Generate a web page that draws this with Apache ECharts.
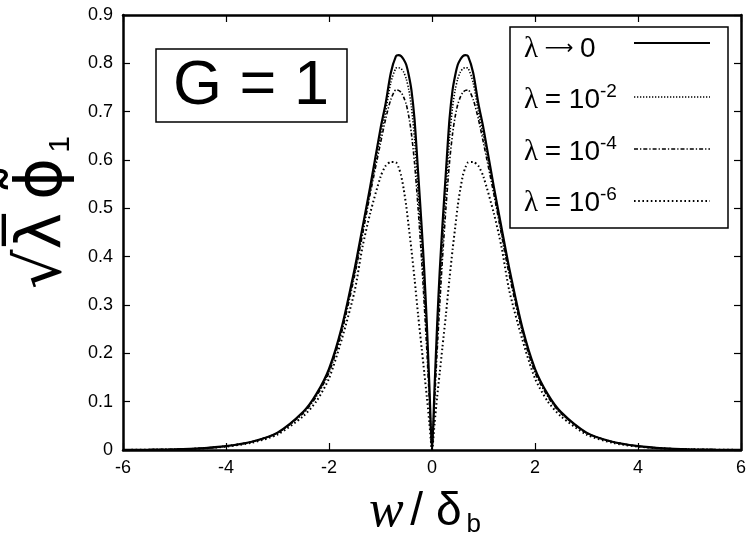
<!DOCTYPE html>
<html>
<head>
<meta charset="utf-8">
<script src="https://cdn.jsdelivr.net/npm/echarts@6/dist/echarts.min.js"></script>
<style>
  html, body { margin: 0; padding: 0; background: #fff; }
</style>
</head>
<body>
<div id="main" style="width: 746px; height: 544px"></div>
<script>
// w / delta_b grid
var xs = [-6, -5.5, -5, -4.5, -4, -3.5, -3, -2.5, -2.25, -2, -1.75, -1.5, -1.35, -1.2, -1, -0.9, -0.8, -0.7, -0.65, -0.6,
  -0.55, -0.5, -0.45, -0.4, -0.34, -0.27, -0.2, -0.15, -0.1, -0.05, 0, 0.05, 0.1, 0.15, 0.2, 0.27, 0.34, 0.4, 0.45, 0.5,
  0.55, 0.6, 0.65, 0.7, 0.8, 0.9, 1, 1.2, 1.35, 1.5, 1.75, 2, 2.25, 2.5, 3, 3.5, 4, 4.5, 5, 5.5, 6];

// lambda -> 0
var yLim0 = [0.0002, 0.0006, 0.0015, 0.0035, 0.008, 0.017, 0.036, 0.079, 0.115, 0.168, 0.255, 0.376, 0.46, 0.545, 0.665, 0.717, 0.78, 0.815, 0.817, 0.815,
  0.808, 0.797, 0.775, 0.745, 0.685, 0.575, 0.46, 0.37, 0.26, 0.13, 0, 0.13, 0.26, 0.37, 0.46, 0.575, 0.685, 0.745, 0.775, 0.797,
  0.808, 0.815, 0.817, 0.815, 0.78, 0.717, 0.665, 0.545, 0.46, 0.376, 0.255, 0.168, 0.115, 0.079, 0.036, 0.017, 0.008, 0.0035, 0.0015, 0.0006, 0.0002];
// lambda = 1e-2
var yLam2 = [0.0002, 0.0006, 0.0015, 0.0035, 0.008, 0.017, 0.035, 0.077, 0.112, 0.163, 0.25, 0.368, 0.45, 0.535, 0.65, 0.70, 0.76, 0.79, 0.791, 0.789,
  0.782, 0.768, 0.745, 0.71, 0.645, 0.535, 0.42, 0.33, 0.23, 0.115, 0, 0.115, 0.23, 0.33, 0.42, 0.535, 0.645, 0.71, 0.745, 0.768,
  0.782, 0.789, 0.791, 0.79, 0.76, 0.70, 0.65, 0.535, 0.45, 0.368, 0.25, 0.163, 0.112, 0.077, 0.035, 0.017, 0.008, 0.0035, 0.0015, 0.0006, 0.0002];
// lambda = 1e-4
var yLam4 = [0.0002, 0.0006, 0.0015, 0.0035, 0.008, 0.017, 0.035, 0.076, 0.11, 0.16, 0.245, 0.362, 0.445, 0.53, 0.635, 0.685, 0.725, 0.745, 0.744, 0.74,
  0.73, 0.715, 0.69, 0.655, 0.595, 0.50, 0.39, 0.30, 0.205, 0.10, 0, 0.10, 0.205, 0.30, 0.39, 0.50, 0.595, 0.655, 0.69, 0.715,
  0.73, 0.74, 0.744, 0.745, 0.725, 0.685, 0.635, 0.53, 0.445, 0.362, 0.245, 0.16, 0.11, 0.076, 0.035, 0.017, 0.008, 0.0035, 0.0015, 0.0006, 0.0002];
// lambda = 1e-6
var yLam6 = [0.0002, 0.0005, 0.0013, 0.003, 0.007, 0.015, 0.032, 0.07, 0.10, 0.148, 0.23, 0.33, 0.42, 0.49, 0.565, 0.588, 0.596, 0.595, 0.585, 0.568,
  0.54, 0.505, 0.46, 0.415, 0.355, 0.28, 0.21, 0.16, 0.11, 0.055, 0, 0.055, 0.11, 0.16, 0.21, 0.28, 0.355, 0.415, 0.46, 0.505,
  0.54, 0.568, 0.585, 0.595, 0.596, 0.588, 0.565, 0.49, 0.42, 0.33, 0.23, 0.148, 0.10, 0.07, 0.032, 0.015, 0.007, 0.003, 0.0013, 0.0005, 0.0002];

var legendTexts = ['{l|λ}  {a|⟶}  {t|0}', '{l|λ}  {t|= 10}{s|-2}', '{l|λ}  {t|= 10}{s|-4}', '{l|λ}  {t|= 10}{s|-6}'];

var lineStyles = [
  { color: '#000', width: 2.2, type: 'solid' },
  { color: '#000', width: 1.6, type: [1.3, 1.7] },
  { color: '#000', width: 1.6, type: [4, 2, 1.3, 2] },
  { color: '#000', width: 2, type: [1.6, 2.6] }
];

var font = 'Liberation Sans';
var chart = echarts.init(document.getElementById('main'));

var ySets = [yLim0, yLam2, yLam4, yLam6];
var series = ySets.map(function (ys, k) {
  return {
    type: 'line',
    name: 'c' + k,
    data: xs.map(function (x, i) { return [x, ys[i]]; }),
    showSymbol: false,
    symbol: 'none',
    smooth: 0.25,
    lineStyle: lineStyles[k],
    z: 10 - k
  };
});

var legendRich = {
  l: { fontFamily: 'Liberation Serif', fontSize: 29, color: '#000' },
  a: { fontFamily: 'DejaVu Sans', fontSize: 20, color: '#000' },
  t: { fontFamily: font, fontSize: 28, color: '#000' },
  s: { fontFamily: font, fontSize: 19, color: '#000', verticalAlign: 'top', padding: [0, 0, 16, 0] }
};

var graphics = [
  { type: 'rect', shape: { x: 156, y: 49, width: 191, height: 73 },
    style: { fill: '#fff', stroke: '#000', lineWidth: 1.5 }, z: 100 },
  { type: 'text', x: 251, y: 87, z: 101,
    style: { text: 'G = 1', font: '63px "Liberation Sans"', fill: '#000', align: 'center', verticalAlign: 'middle' } },
  { type: 'rect', shape: { x: 510, y: 27, width: 218, height: 201 },
    style: { fill: '#fff', stroke: '#000', lineWidth: 1.5 }, z: 100 }
];
var rowY = [43, 97, 149, 201];
var textY = [49, 100, 152, 203];
legendTexts.forEach(function (t, k) {
  graphics.push({ type: 'text', x: 524, y: textY[k], z: 101,
    style: { text: t, rich: legendRich, verticalAlign: 'middle', align: 'left' } });
  graphics.push({ type: 'line', shape: { x1: 634, y1: rowY[k], x2: 710, y2: rowY[k] }, z: 101,
    style: { stroke: '#000', lineWidth: lineStyles[k].width, lineDash: lineStyles[k].type === 'solid' ? null : lineStyles[k].type } });
});

var axisCommon = {
  axisLine: { show: true, onZero: false, lineStyle: { color: '#000', width: 2.5 } },
  axisTick: { show: true, inside: true, length: 7, lineStyle: { color: '#000', width: 1.2 } },
  splitLine: { show: false }
};

var option = {
  animation: false,
  backgroundColor: '#fff',
  grid: { left: 123, right: 5, top: 15, bottom: 94, containLabel: false, outerBoundsMode: 'none' },
  xAxis: [
    Object.assign({
      type: 'value', min: -6, max: 6, interval: 2, position: 'bottom',
      axisLabel: { color: '#000', fontSize: 18, fontFamily: font, margin: 9 },
      name: '{w|w}  {s|/ δ}{b|b}',
      nameLocation: 'middle', nameGap: 36,
      nameTextStyle: {
        padding: [0, 14, 0, 0],
        rich: {
          w: { fontFamily: 'Liberation Serif', fontStyle: 'italic', fontSize: 52, color: '#000' },
          s: { fontFamily: font, fontSize: 46, color: '#000' },
          b: { fontFamily: font, fontSize: 26, color: '#000', verticalAlign: 'bottom', padding: [14, 0, 0, 5] }
        }
      }
    }, axisCommon),
    Object.assign({
      type: 'value', min: -6, max: 6, interval: 2, position: 'top',
      axisLabel: { show: false }
    }, axisCommon)
  ],
  yAxis: [
    Object.assign({
      type: 'value', min: 0, max: 0.9, interval: 0.1, position: 'left',
      axisLabel: { color: '#000', fontSize: 18, fontFamily: font, margin: 10 },
      name: '{r|√λ̅}  {p|ϕ̃}{o|1}',
      nameLocation: 'middle', nameRotate: 90, nameGap: 47,
      nameTextStyle: {
        padding: [0, 0, 0, 40],
        rich: {
          r: { fontFamily: 'DejaVu Sans', fontSize: 62, color: '#000' },
          p: { fontFamily: 'DejaVu Sans', fontSize: 64, color: '#000', padding: [0, 0, 0, 6] },
          o: { fontFamily: font, fontSize: 30, color: '#000', verticalAlign: 'bottom', padding: [18, 0, 0, 5] }
        }
      }
    }, axisCommon),
    Object.assign({
      type: 'value', min: 0, max: 0.9, interval: 0.1, position: 'right',
      axisLabel: { show: false }
    }, axisCommon)
  ],
  graphic: graphics,
  series: series
};

option && chart.setOption(option);
</script>
</body>
</html>
